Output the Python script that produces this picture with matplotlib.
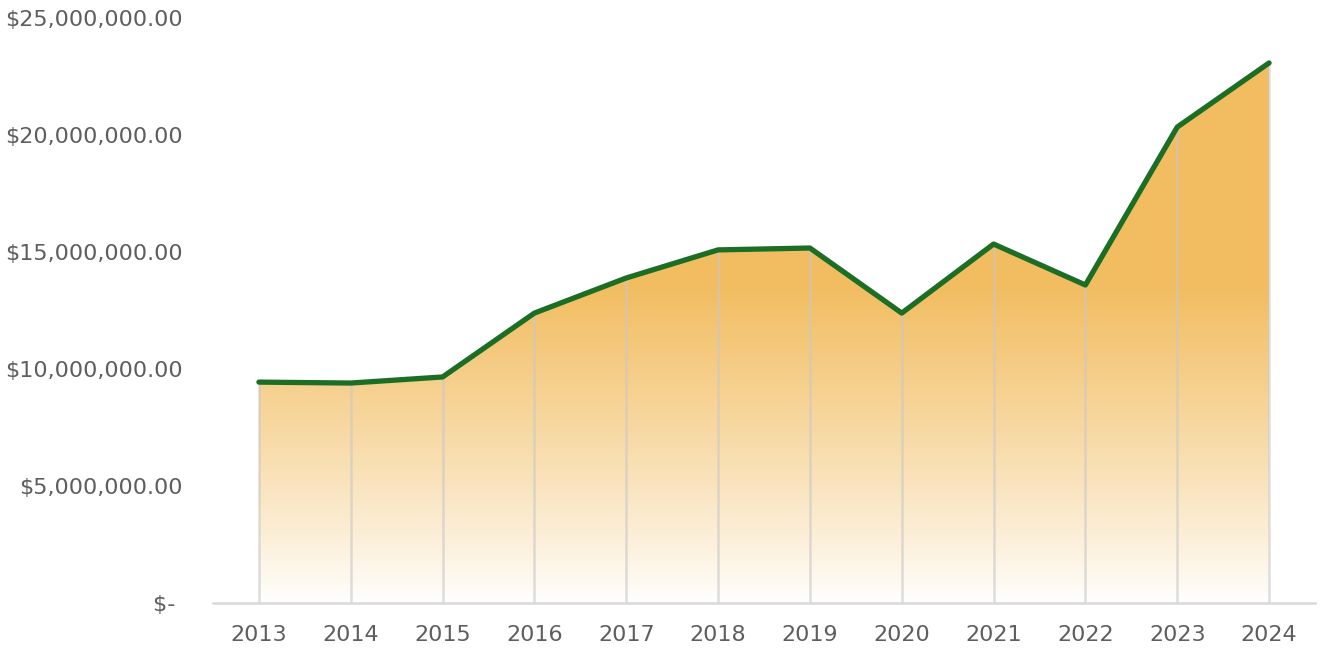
import numpy as np
import matplotlib
matplotlib.use("Agg")
import matplotlib.pyplot as plt
from matplotlib.colors import to_rgb

years = ["2013", "2014", "2015", "2016", "2017", "2018", "2019", "2020", "2021", "2022", "2023", "2024"]
values = [9.44e6, 9.40e6, 9.66e6, 12.39e6, 13.89e6, 15.09e6, 15.17e6, 12.39e6, 15.34e6, 13.59e6, 20.34e6, 23.08e6]
yticks = [0, 5e6, 10e6, 15e6, 20e6, 25e6]
ytick_labels = ["$- ", "$5,000,000.00", "$10,000,000.00", "$15,000,000.00", "$20,000,000.00", "$25,000,000.00"]

plt.rcParams['font.family'] = ['DejaVu Sans']

fig = plt.figure(figsize=(13.2, 6.5), dpi=100)
ax = fig.add_axes([213/1320, 47/650, 1102/1320, 585/650])

x = np.arange(len(years))
ax.set_xlim(-0.5, len(years) - 0.5)
ax.set_ylim(0, 25e6)

# gradient fill
poly = ax.fill_between(x, values, 0, color='none', lw=0)
top_col = np.array(to_rgb('#F2BD61'))
white = np.ones(3)
ny = 400
ys = np.linspace(0, 25e6, ny)
t = np.clip(ys / 13.5e6, 0, 1) ** 0.9
img = (white[None, :] * (1 - t[:, None]) + top_col[None, :] * t[:, None])
img = np.repeat(img[:, None, :], 2, axis=1)
im = ax.imshow(img, extent=[-0.5, len(years) - 0.5, 0, 25e6], origin='lower',
               aspect='auto', zorder=1, interpolation='bilinear')
path = poly.get_paths()[0]
im.set_clip_path(path, transform=ax.transData)

# drop lines
ax.vlines(x, 0, values, colors='#C8C8C8', lw=1.8, alpha=0.6, zorder=2)

# main line
ax.plot(x, values, color='#1C6E24', lw=3.8, solid_capstyle='round', solid_joinstyle='round', zorder=3)

for s in ['top', 'right', 'left']:
    ax.spines[s].set_visible(False)
ax.spines['bottom'].set_color('#D9D9D9')
ax.spines['bottom'].set_linewidth(1.8)
ax.spines['bottom'].set_zorder(4)

ax.set_xticks(x)
ax.set_xticklabels(years)
ax.set_yticks(yticks)
ax.set_yticklabels(ytick_labels)
ax.tick_params(axis='both', length=0, labelsize=16, labelcolor='#5E5E5E')
ax.tick_params(axis='y', pad=22)
ax.tick_params(axis='x', pad=16)

fig.savefig('out.png', dpi=100)
